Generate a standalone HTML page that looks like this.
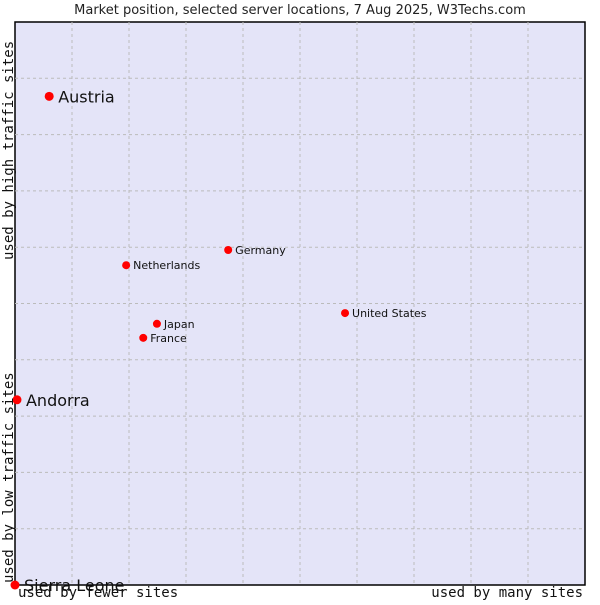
<!DOCTYPE html>
<html><head><meta charset="utf-8"><style>
body{margin:0;background:#fff;width:600px;height:600px;overflow:hidden}
svg text{font-family:"DejaVu Sans","Liberation Sans",sans-serif}
.mono{font-family:"DejaVu Sans Mono","Liberation Mono",monospace}
</style></head><body>
<svg id="c" width="600" height="600">
<text x="300" y="14" text-anchor="middle" font-size="13" fill="#222">Market position, selected server locations, 7 Aug 2025, W3Techs.com</text>
<rect x="15" y="22" width="570" height="563" fill="#e4e4f8" stroke="#000" stroke-width="1.5"/>
<g id="grid"></g>
<g id="pts"></g>
<text class="mono" x="18" y="597" font-size="14" fill="#111">used by fewer sites</text>
<text class="mono" x="583" y="597" font-size="14" text-anchor="end" fill="#111">used by many sites</text>
<text class="mono" transform="translate(13,583) rotate(-90)" font-size="14" fill="#111">used by low traffic sites</text>
<text class="mono" transform="translate(13,260) rotate(-90)" font-size="14" fill="#111">used by high traffic sites</text>
</svg>
<script>
const names=["Austria","Andorra","Sierra Leone","Netherlands","Germany","United States","Japan","France"];
const xs=[0.06,0.0035,0,0.195,0.374,0.579,0.249,0.225];
const ys=[0.868,0.329,0,0.568,0.595,0.483,0.464,0.439];
const big=[1,1,1,0,0,0,0,0];
const L=15,T=22,W=570,H=563;
const sx=v=>L+v*W, sy=v=>T+H-v*H;
const NS="http://www.w3.org/2000/svg";
const g=document.getElementById('grid');
for(let i=1;i<10;i++){
 const v=document.createElementNS(NS,'line');
 v.setAttribute('x1',sx(i/10));v.setAttribute('x2',sx(i/10));v.setAttribute('y1',T);v.setAttribute('y2',T+H);
 v.setAttribute('stroke','#bbb');v.setAttribute('stroke-dasharray','3,3');
 
 
 g.appendChild(v);
 const h=document.createElementNS(NS,'line');
 h.setAttribute('y1',sy(i/10));h.setAttribute('y2',sy(i/10));h.setAttribute('x1',L);h.setAttribute('x2',L+W);
 h.setAttribute('stroke','#bbb');h.setAttribute('stroke-dasharray','3,3');
 
 
 g.appendChild(h);
}
const p=document.getElementById('pts');
names.forEach((n,i)=>{
 const x=sx(xs[i]),y=sy(ys[i]);
 const c=document.createElementNS(NS,'circle');
 c.setAttribute('cx',x);c.setAttribute('cy',y);c.setAttribute('r',big[i]?4.5:4);c.setAttribute('fill','#f00');
 
 
 p.appendChild(c);
 const t=document.createElementNS(NS,'text');
 t.setAttribute('x',x+(big[i]?9:7));t.setAttribute('y',y+(big[i]?6:4));
 t.setAttribute('font-size',big[i]?16:11);t.setAttribute('fill','#111');
 t.textContent=n;
 
 
 p.appendChild(t);
});
</script>
</body></html>
